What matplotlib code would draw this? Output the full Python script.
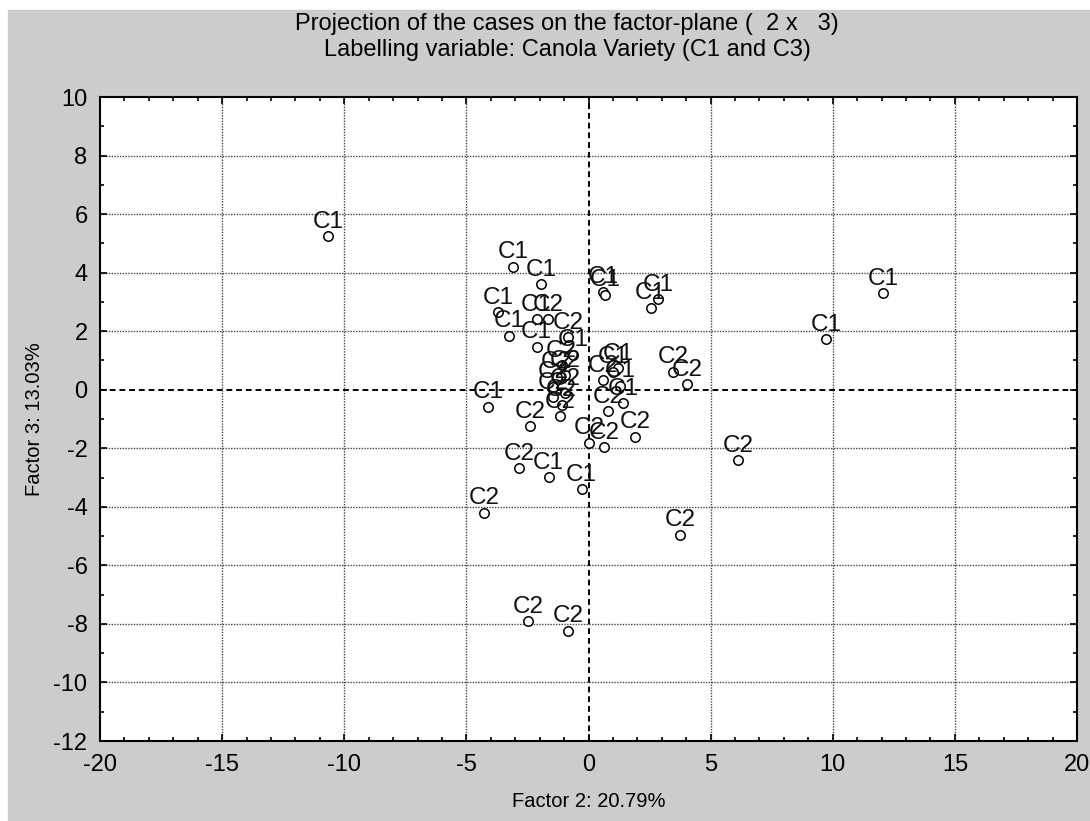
import matplotlib
matplotlib.use("Agg")
from matplotlib import pyplot as plt
from matplotlib.patches import Rectangle
from matplotlib.ticker import MultipleLocator

plt.rcParams['font.family'] = ['Liberation Sans', 'DejaVu Sans']
plt.rcParams['axes.unicode_minus'] = False

# case coordinates
factor2 = [-10.67, 12.05, 9.72, 6.13, 3.74, -2.47, -0.83, -4.27,
           -3.08, -1.95, 0.60, 0.67, 2.85, 2.54, -3.70, -3.26,
           -2.12, -1.65, -0.83, -2.12,
           -1.10, -0.63, -0.97, -1.30, -1.45, -0.97, -1.45, -1.10, -1.17,
           1.20, 0.59, 1.29, 1.42, 0.81, 1.90, 1.00,
           3.47, 4.04, -4.10, -2.40, 0.02, 0.64, -2.84, -1.63, -0.28]
factor3 = [5.25, 3.30, 1.72, -2.40, -4.96, -7.90, -8.24, -4.20,
           4.20, 3.60, 3.35, 3.24, 3.10, 2.80, 2.64, 1.85,
           2.40, 2.40, 1.79, 1.47,
           0.84, 1.19, 0.50, 0.44, 0.10, -0.12, -0.25, -0.52, -0.90,
           0.74, 0.33, 0.13, -0.47, -0.73, -1.60, 0.62,
           0.62, 0.19, -0.58, -1.24, -1.81, -1.97, -2.69, -2.99, -3.40]
variety = ["C1", "C1", "C1", "C2", "C2", "C2", "C2", "C2",
           "C1", "C1", "C1", "C1", "C1", "C1", "C1", "C1",
           "C1", "C2", "C2", "C1",
           "C2", "C1", "C2", "C2", "C2", "C2", "C2", "C2", "C2",
           "C1", "C2", "C1", "C1", "C2", "C2", "C1",
           "C2", "C2", "C1", "C2", "C2", "C2", "C2", "C1", "C1"]

fig = plt.figure(figsize=(10.9, 8.21), dpi=100)
fig.patches.append(Rectangle((8 / 1090, 0), 1 - 8 / 1090, 1 - 10 / 821,
                             transform=fig.transFigure, color="#cccccc", zorder=-10))

ax = fig.add_axes([100 / 1090, 80 / 821, 977 / 1090, 644 / 821])
ax.set_facecolor("white")

for v in range(-15, 20, 5):
    if v != 0:
        ax.axvline(v, color="#444444", ls=(0, (1, 1)), lw=1.0, zorder=1)
for v in range(-10, 10, 2):
    if v != 0:
        ax.axhline(v, color="#444444", ls=(0, (1, 1)), lw=1.0, zorder=1)
ax.axvline(0, color="black", ls=(0, (3, 2)), lw=1.4, zorder=1)
ax.axhline(0, color="black", ls=(0, (3, 2)), lw=1.4, zorder=1)

ax.plot(factor2, factor3, "o", mfc="white", mec="black", ms=6.8, mew=1.1, zorder=3)
for x, y, s in zip(factor2, factor3, variety):
    ax.annotate(s, (x, y), xytext=(0, 2.5), textcoords="offset points",
                ha="center", va="bottom", fontsize=17.5, color="#111111", zorder=4)

ax.set_xlim(-20, 20)
ax.set_ylim(-12, 10)
ax.xaxis.set_major_locator(MultipleLocator(5))
ax.xaxis.set_minor_locator(MultipleLocator(1))
ax.yaxis.set_major_locator(MultipleLocator(2))
ax.yaxis.set_minor_locator(MultipleLocator(1))
ax.tick_params(which="both", direction="in", top=True, right=True, width=1.2)
ax.tick_params(which="major", length=5, labelsize=17)
ax.tick_params(axis="x", which="major", pad=9)
ax.tick_params(axis="y", which="major", pad=9)
ax.tick_params(which="minor", length=3)
for sp in ax.spines.values():
    sp.set_linewidth(1.5)

ax.set_xlabel("Factor 2: 20.79%", fontsize=14.5, labelpad=12)
ax.set_ylabel("Factor 3: 13.03%", fontsize=14.5, labelpad=7)

fig.text(567 / 1090, 1 - 24 / 821, "Projection of the cases on the factor-plane (  2 x   3)",
         ha="center", va="center", fontsize=17)
fig.text(567 / 1090, 1 - 50 / 821, "Labelling variable: Canola Variety (C1 and C3)",
         ha="center", va="center", fontsize=17)

fig.savefig("out.png", dpi=100)
